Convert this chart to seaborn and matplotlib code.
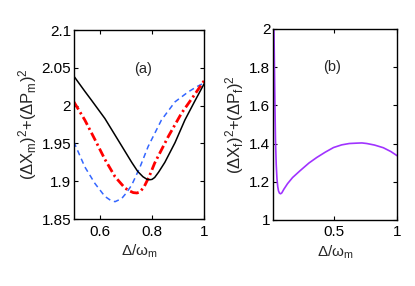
import numpy as np
import pandas as pd
import matplotlib
matplotlib.use("Agg")
import matplotlib.pyplot as plt
import seaborn as sns

# ---- data ----
black_x = [0.5, 0.542, 0.568, 0.619, 0.683, 0.722, 0.745, 0.765, 0.78, 0.791, 0.80, 0.81, 0.825, 0.849, 0.888, 0.926, 0.964, 1.0]
black_y = [2.039, 2.019, 2.007, 1.983, 1.947, 1.925, 1.913, 1.906, 1.9027, 1.902, 1.9025, 1.905, 1.912, 1.925, 1.951, 1.981, 2.006, 2.029]

red_x = [0.5, 0.542, 0.581, 0.619, 0.658, 0.696, 0.715, 0.728, 0.742, 0.754, 0.77, 0.79, 0.81, 0.862, 0.913, 0.958, 1.0]
red_y = [2.005, 1.981, 1.955, 1.929, 1.906, 1.891, 1.887, 1.885, 1.8845, 1.886, 1.893, 1.907, 1.924, 1.959, 1.99, 2.012, 2.033]

blue_x = [0.5, 0.542, 0.581, 0.619, 0.64, 0.658, 0.683, 0.70, 0.722, 0.754, 0.785, 0.836, 0.888, 0.938, 0.971, 1.0]
blue_y = [1.952, 1.919, 1.897, 1.880, 1.875, 1.873, 1.877, 1.884, 1.895, 1.919, 1.946, 1.981, 2.005, 2.018, 2.025, 2.03]

purple_x = [0.022, 0.026, 0.030, 0.034, 0.040, 0.046, 0.052, 0.058, 0.066, 0.075, 0.085, 0.10, 0.13, 0.17, 0.23, 0.30, 0.362, 0.43, 0.495, 0.56, 0.62, 0.68, 0.72, 0.759, 0.82, 0.89, 0.95, 1.0]
purple_y = [2.0, 1.80, 1.60, 1.42, 1.29, 1.215, 1.175, 1.152, 1.140, 1.137, 1.142, 1.160, 1.190, 1.222, 1.258, 1.298, 1.327, 1.355, 1.379, 1.393, 1.400, 1.402, 1.403, 1.400, 1.392, 1.378, 1.358, 1.336]

left_xticks = [0.6, 0.8, 1.0]
left_xticklabels = ["0.6", "0.8", "1"]
left_yticks = [1.85, 1.9, 1.95, 2.0, 2.05, 2.1]
left_yticklabels = ["1.85", "1.9", "1.95", "2", "2.05", "2.1"]
right_xticks = [0.5, 1.0]
right_xticklabels = ["0.5", "1"]
right_yticks = [1.0, 1.2, 1.4, 1.6, 1.8, 2.0]
right_yticklabels = ["1", "1.2", "1.4", "1.6", "1.8", "2"]

sns.set_style("ticks")
plt.rcParams["font.family"] = ["Liberation Sans", "DejaVu Sans"]
plt.rcParams["mathtext.fontset"] = "custom"
plt.rcParams["mathtext.rm"] = "Liberation Sans"
plt.rcParams["mathtext.it"] = "Liberation Sans"
plt.rcParams["mathtext.sf"] = "Liberation Sans"
plt.rcParams["xtick.direction"] = "in"
plt.rcParams["ytick.direction"] = "in"

fig = plt.figure(figsize=(4.15, 2.86), dpi=100)
ax1 = fig.add_axes([0.178, 0.234, 0.314, 0.661])
ax2 = fig.add_axes([0.658, 0.231, 0.299, 0.668])

d_b = pd.DataFrame({"x": black_x, "y": black_y})
d_r = pd.DataFrame({"x": red_x, "y": red_y})
d_bl = pd.DataFrame({"x": blue_x, "y": blue_y})
d_p = pd.DataFrame({"x": purple_x, "y": purple_y})

sns.lineplot(data=d_bl, x="x", y="y", ax=ax1, color="#3366ff", lw=1.1,
             linestyle=(0, (3.5, 2.5)), sort=False)
sns.lineplot(data=d_r, x="x", y="y", ax=ax1, color="#ff0000", lw=2.0,
             sort=False)
ax1.lines[-1].set_linestyle((0, (3.2, 1.2, 0.8, 1.2)))
sns.lineplot(data=d_b, x="x", y="y", ax=ax1, color="black", lw=1.1, sort=False)
sns.lineplot(data=d_p, x="x", y="y", ax=ax2, color="#a033ff", lw=1.2, sort=False)

ax1.set_xlim(0.5, 1.0)
ax1.set_ylim(1.85, 2.1)
ax1.set_xticks(left_xticks)
ax1.set_xticklabels(left_xticklabels)
ax1.set_yticks(left_yticks)
ax1.set_yticklabels(left_yticklabels)

ax2.set_xlim(0.015, 1.0)
ax2.set_ylim(1.0, 2.0)
ax2.set_xticks(right_xticks)
ax2.set_xticklabels(right_xticklabels)
ax2.set_yticks(right_yticks)
ax2.set_yticklabels(right_yticklabels)

for ax in (ax1, ax2):
    ax.tick_params(which="both", direction="in", top=True, right=True,
                   length=3, width=0.8, labelsize=11, pad=2, colors="black")
    ax.tick_params(axis="x", pad=4)
    for s in ax.spines.values():
        s.set_visible(True)
        s.set_linewidth(1.0)
        s.set_color("black")
    ax.set_xlabel(r"$\Delta/\omega_{\rm m}$", fontsize=11, labelpad=3)

ax1.set_ylabel(r"$(\Delta X_{\rm m})^2$+$(\Delta P_{\rm m})^2$", fontsize=12, labelpad=2)
ax2.set_ylabel(r"$(\Delta X_{\rm f})^2$+$(\Delta P_{\rm f})^2$", fontsize=12, labelpad=2)

ax1.text(0.764, 2.048, "(a)", ha="center", va="center", fontsize=10.5)
ax2.text(0.48, 1.80, "(b)", ha="center", va="center", fontsize=10.5)

fig.savefig("out.png", dpi=100)
